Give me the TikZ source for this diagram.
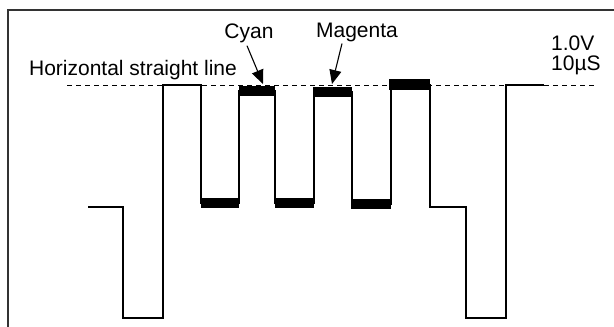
\documentclass[tikz,border=0pt]{standalone}
\usepackage{fontspec}
\setmainfont{Liberation Sans}
\usepackage{tikz}
\usetikzlibrary{arrows.meta,calc}
\tikzset{
  frameline/.style={line width=1.3pt, draw=black!80},
  wave/.style={line width=1.8pt, draw=black, line join=miter},
  levelbar/.style={fill=black, draw=none},
  refline/.style={line width=0.9pt, dash pattern=on 5pt off 4pt},
  labeltext/.style={font=\fontsize{21}{20}\selectfont, inner sep=1pt, align=left},
  pointer/.style={-{Triangle[length=14pt,width=12pt]}, line width=1.1pt},
}

\begin{document}
\begin{tikzpicture}[x=1pt, y=-1pt]
  \useasboundingbox (0,0) rectangle (614,327);
  % frame (cut off at right and bottom)
  \draw[frameline] (8,327) -- (8,10) -- (614,10);

  % reference level
  \draw[refline] (67,85) -- (595,85);

  % waveform
  \draw[wave] (88,207) -- (123,207) -- (123,318) -- (163,318) -- (163,85)
    -- (201,85) -- (201,203) -- (239,203) -- (239,91) -- (275,91)
    -- (275,203) -- (314,203) -- (314,92) -- (352,92) -- (352,204)
    -- (391,204) -- (391,85) -- (430,85) -- (430,207) -- (466,207)
    -- (466,318) -- (506,318) -- (506,85) -- (544,85);

  % level bars
  \fill[levelbar] (201,198) rectangle (239,208);
  \fill[levelbar] (239,86) rectangle (275,96);
  \fill[levelbar] (275,198) rectangle (314,208);
  \fill[levelbar] (313,87) rectangle (352,97);
  \fill[levelbar] (351,199) rectangle (391,209);
  \fill[levelbar] (389,79) rectangle (430,90);

  % labels
  \node[labeltext] (hline) at (133,70) {Horizontal straight line};
  \node[labeltext] (cyanlbl) at (249,33) {Cyan};
  \node[labeltext] (magentalbl) at (357,32) {Magenta};
  \node[labeltext, anchor=west] (scale) at (550,55) {1.0V\\10µS};

  \coordinate (cyantip) at (263,84);
  \coordinate (magentatip) at (332,84);
  \draw[pointer] ($(cyanlbl.south)+(-2,2)$) -- (cyantip);
  \draw[pointer] ($(magentalbl.south)+(-15,1)$) -- (magentatip);
\end{tikzpicture}
\end{document}
